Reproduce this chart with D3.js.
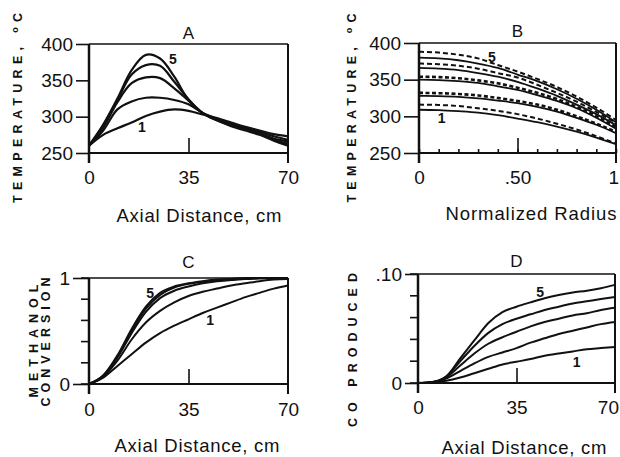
<!DOCTYPE html>
<html><head><meta charset="utf-8">
<script src="https://cdn.jsdelivr.net/npm/d3@7"></script>
<style>
html,body{margin:0;padding:0;background:#fff;}
svg{display:block;}
text{font-family:"Liberation Sans",Arial,Helvetica,sans-serif;fill:#111;}
</style></head><body>
<svg id="c" width="620" height="457"></svg>
<script>
// ---------- data ----------
const axialDistance = [0,5,10,15,20,25,30,35,40,45,50,55,60,65,70];
const normRadius = [0,0.1,0.2,0.3,0.4,0.5,0.6,0.7,0.8,0.9,1];
const curveLabels = ["1","5"];

// Panel A: temperature (°C) vs axial distance, cases 1..5
const tempA1 = [260,275,284,292,301,307,310,308,303,298,292,286,281,276,273];
const tempA2 = [260,281,310,321,326,326,323,317,305,297,290,284,279,273,268];
const tempA3 = [260,285,320,346,354,353,339,322,305,296,289,283,277,270,266];
const tempA4 = [260,288,323,358,371,370,348,324,305,295,288,282,276,268,263];
const tempA5 = [260,289,325,364,385,380,355,323,305,295,287,281,275,267,260];

// Panel B: radial temperature profiles, solid and dashed, cases 1..5
const tempB1 = [309,308.5,307,305,301.5,297,292,286,279,271,262];
const tempB1d = [316,315.5,314,311,307.5,303,297,290,282,273,263];
const tempB2 = [328,327.5,326.5,324.5,321.5,318,313,306.5,298,288.5,277];
const tempB2d = [332,331.5,330.5,328.5,325,321,316,309,300,290,279];
const tempB3 = [350,349.5,348,345.5,341,336,329,321,311,298,283];
const tempB3d = [354,353.5,352,349,345,339,332,323.5,313,300,285];
const tempB4 = [366,365,363,359,354,347,338,328,316,303,288];
const tempB4d = [372,371,369,365,359,353,343,332,320,306,291];
const tempB5 = [380,379,376.5,372,366,357,348,337,324,309,292];
const tempB5d = [388,387,384,379,370,361,351,340,327,312,295];

// Panel C: methanol conversion vs axial distance
const convC1 = [0,0.06,0.17,0.28,0.39,0.48,0.55,0.61,0.67,0.72,0.77,0.82,0.86,0.90,0.93];
const convC2 = [0,0.07,0.22,0.42,0.58,0.69,0.77,0.83,0.87,0.90,0.93,0.95,0.97,0.985,0.99];
const convC3 = [0,0.075,0.25,0.48,0.68,0.81,0.88,0.92,0.95,0.97,0.98,0.99,0.995,1.0,1.0];
const convC4 = [0,0.08,0.26,0.50,0.71,0.84,0.91,0.945,0.965,0.98,0.99,0.995,1.0,1.0,1.0];
const convC5 = [0,0.08,0.27,0.52,0.73,0.86,0.92,0.95,0.97,0.985,0.99,1.0,1.0,1.0,1.0];

// Panel D: CO produced vs axial distance
const coD1 = [0,0.0005,0.002,0.005,0.009,0.013,0.017,0.0195,0.022,0.025,0.027,0.029,0.031,0.032,0.033];
const coD2 = [0,0.0006,0.004,0.011,0.018,0.024,0.028,0.032,0.037,0.041,0.045,0.048,0.051,0.054,0.056];
const coD3 = [0,0.0007,0.005,0.016,0.027,0.036,0.042,0.047,0.052,0.056,0.059,0.062,0.064,0.067,0.069];
const coD4 = [0,0.0008,0.006,0.020,0.034,0.046,0.054,0.059,0.063,0.067,0.070,0.073,0.075,0.077,0.079];
const coD5 = [0,0.001,0.006,0.0226,0.039,0.055,0.065,0.070,0.074,0.0777,0.0807,0.083,0.0847,0.087,0.090];

const ticksTemp = [250,300,350,400];
const ticksAxial = [0,35,70];
const ticksRadius = [0,0.5,1];
const ticksConvMinor = [0,0.2,0.4,0.6,0.8,1];
const ticksConvMajor = [0,1];
const ticksCOMinor = [0,0.02,0.04,0.06,0.08,0.10];
const ticksCOMajor = [0,0.10];
const radiusMinor = [0,0.1,0.2,0.3,0.4,0.5,0.6,0.7,0.8,0.9,1];

// ---------- drawing ----------
const svg = d3.select("#c");
const INK = "#111";
const W = 620;

function zip(xs, ys){ return xs.map((v,i)=>[v, ys[i]]); }

function panel(o){
  const g = svg.append("g");
  const x = d3.scaleLinear().domain(o.xDomain).range([o.left, o.right]);
  const y = d3.scaleLinear().domain(o.yDomain).range([o.bottom, o.top]);
  const x0 = o.xDomain[0], x1 = o.xDomain[1], y0 = o.yDomain[0], y1 = o.yDomain[1];

  // curves
  const line = d3.line().x(d=>x(d[0])).y(d=>y(d[1])).curve(o.curve || d3.curveMonotoneX);
  o.series.forEach(s=>{
    g.append("path").attr("d", line(zip(s.xs, s.ys)))
      .attr("fill","none").attr("stroke",INK)
      .attr("stroke-width", s.w || 2)
      .attr("stroke-dasharray", s.dash || null)
      .attr("stroke-linejoin","round");
  });

  // frame
  const fr = g.append("g").attr("stroke",INK).attr("fill","none");
  fr.append("line").attr("x1",x(x0)).attr("x2",x(x0)).attr("y1",y(y1)).attr("y2",y(y0)+10).attr("stroke-width",2.5);
  fr.append("line").attr("x1",x(x1)).attr("x2",x(x1)).attr("y1",y(y1)).attr("y2",y(y0)+10).attr("stroke-width",2);
  fr.append("line").attr("x1",x(x0)).attr("x2",x(x1)).attr("y1",y(y1)).attr("y2",y(y1)).attr("stroke-width",1.6);
  fr.append("line").attr("x1",x(x0)).attr("x2",x(x1)).attr("y1",y(y0)).attr("y2",y(y0)).attr("stroke-width",2);

  // y minor ticks
  if (o.yMinor){
    g.append("g").selectAll("line").data(o.yMinor).join("line")
      .attr("x1",x(x0)-8).attr("x2",x(x0))
      .attr("y1",d=>y(d)).attr("y2",d=>y(d))
      .attr("stroke",INK).attr("stroke-width",1.6);
  }
  const ga = g.append("g").attr("transform",`translate(${x(x0)},0)`)
    .call(d3.axisLeft(y).tickValues(o.yTicks).tickSize(o.yTickSize).tickPadding(3).tickFormat(o.yFormat));
  ga.select(".domain").remove();
  ga.selectAll("line").attr("stroke",INK).attr("stroke-width",1.6);
  ga.selectAll("text").attr("font-size",19).attr("fill",INK)
    .style("font-family",'"Liberation Sans",Arial,sans-serif');

  // x axis labels
  const gx = g.append("g").attr("transform",`translate(0,${y(y0)})`)
    .call(d3.axisBottom(x).tickValues(o.xTicks).tickSize(0).tickPadding(o.xPad).tickFormat(o.xFormat));
  gx.select(".domain").remove();
  gx.selectAll("text").attr("font-size",19).attr("fill",INK)
    .style("font-family",'"Liberation Sans",Arial,sans-serif');
  // keep edge labels inside the canvas
  gx.selectAll("text").each(function(){
    const r = this.getBoundingClientRect();
    if (r.right > W - 1) d3.select(this).attr("x", -(r.right - (W - 1)));
  });

  // inner x ticks
  if (o.xMinor){
    const gi = g.append("g").attr("transform",`translate(0,${y(y0)})`)
      .call(d3.axisTop(x).tickValues(o.xMinor).tickSize(4).tickFormat(""));
    gi.select(".domain").remove();
    gi.selectAll("line").attr("stroke",INK).attr("stroke-width",1.6);
  }
  const gmid = g.append("g").attr("transform",`translate(0,${y(y0)})`)
    .call(d3.axisTop(x).tickValues([o.xMid]).tickSize(15).tickFormat(""));
  gmid.select(".domain").remove();
  gmid.selectAll("line").attr("stroke",INK).attr("stroke-width",1.6);

  // panel title
  g.append("text").attr("x",(o.left+o.right)/2).attr("y",o.titleY)
    .attr("text-anchor","middle").attr("font-size",17).text(o.title);

  // curve labels
  o.labels.forEach(l=>{
    g.append("text").attr("x",x(l.x)).attr("y",y(l.y)).attr("dy","0.35em")
      .attr("text-anchor","middle").attr("font-size",14).attr("font-weight","bold").text(l.t);
  });

  // x title
  g.append("text").attr("x",o.xTitleX).attr("y",o.xTitleY).attr("text-anchor","middle")
    .attr("font-size",18.5).attr("textLength",o.xTitleLen).attr("lengthAdjust","spacing")
    .text(o.xTitle);

  // y title(s)
  o.yTitles.forEach(t=>{
    const tx = g.append("text").attr("transform",`translate(${t.x},${t.cy}) rotate(-90)`)
      .attr("text-anchor","middle").attr("font-size",12.5).attr("font-weight","bold")
      .attr("textLength",t.len).attr("lengthAdjust","spacing");
    if (t.deg){
      tx.append("tspan").text(t.text);
      tx.append("tspan").attr("font-size",9).attr("dy",-4).text("o");
      tx.append("tspan").attr("dy",4).text("C");
    } else tx.text(t.text);
  });
  return {x,y};
}

const tempFmt = d3.format("d");

// Panel A
panel({
  xDomain:[0,70], yDomain:[250,400], left:89, right:288, top:44, bottom:153,
  curve: d3.curveCatmullRom.alpha(0.5),
  series:[tempA1,tempA2,tempA3,tempA4,tempA5].map(ys=>({xs:axialDistance, ys, w:2.2})),
  yTicks:ticksTemp, yTickSize:13, yFormat:tempFmt,
  xTicks:ticksAxial, xFormat:d3.format("d"), xPad:18, xMid:35,
  title:"A", titleY:39,
  labels:[{x:29.5,y:379,t:curveLabels[1]},{x:18.6,y:285,t:curveLabels[0]}],
  xTitle:"Axial  Distance, cm", xTitleX:199, xTitleY:222, xTitleLen:165,
  yTitles:[{x:21.5, cy:108, len:190, text:"TEMPERATURE, ", deg:true}]
});

// Panel B
panel({
  xDomain:[0,1], yDomain:[250,400], left:419, right:616, top:43, bottom:153,
  series:[
    {ys:tempB1},{ys:tempB1d,dash:"5,3",w:2},
    {ys:tempB2},{ys:tempB2d,dash:"4,2.5",w:2.6},
    {ys:tempB3},{ys:tempB3d,dash:"4,2.5",w:2.6},
    {ys:tempB4},{ys:tempB4d,dash:"5,3",w:2},
    {ys:tempB5},{ys:tempB5d,dash:"5,3",w:2}
  ].map(s=>Object.assign({xs:normRadius, w:1.8}, s)),
  yTicks:ticksTemp, yTickSize:15, yFormat:tempFmt,
  xTicks:ticksRadius, xFormat:d=>d===0?"0":(d===1?"1":".50"), xPad:18, xMid:0.5,
  xMinor:radiusMinor,
  title:"B", titleY:37,
  labels:[{x:0.37,y:381,t:curveLabels[1]},{x:0.115,y:297,t:curveLabels[0]}],
  xTitle:"Normalized  Radius", xTitleX:531, xTitleY:220, xTitleLen:171,
  yTitles:[{x:356, cy:108, len:189, text:"TEMPERATURE, ", deg:true}]
});

// Panel C
panel({
  xDomain:[0,70], yDomain:[0,1], left:89, right:288, top:278, bottom:384,
  series:[convC1,convC2,convC3,convC4,convC5].map(ys=>({xs:axialDistance, ys, w:2})),
  yTicks:ticksConvMajor, yTickSize:16, yFormat:d=>d===0?"0":"1",
  yMinor:ticksConvMinor,
  xTicks:ticksAxial, xFormat:d3.format("d"), xPad:19, xMid:35,
  title:"C", titleY:268,
  labels:[{x:21.5,y:0.86,t:curveLabels[1]},{x:42.6,y:0.60,t:curveLabels[0]}],
  xTitle:"Axial  Distance, cm", xTitleX:197, xTitleY:452, xTitleLen:165,
  yTitles:[{x:37.5, cy:341, len:113, text:"METHANOL"},{x:50, cy:342, len:129, text:"CONVERSION"}]
});

// Panel D
panel({
  xDomain:[0,70], yDomain:[0,0.10], left:418, right:615, top:274, bottom:383,
  series:[coD1,coD2,coD3,coD4,coD5].map(ys=>({xs:axialDistance, ys, w:2})),
  yTicks:ticksCOMajor, yTickSize:13, yFormat:d=>d===0?"0":".10",
  yMinor:ticksCOMinor,
  xTicks:ticksAxial, xFormat:d3.format("d"), xPad:18, xMid:35,
  title:"D", titleY:267,
  labels:[{x:43.4,y:0.0838,t:curveLabels[1]},{x:56.4,y:0.0195,t:curveLabels[0]}],
  xTitle:"Axial  Distance, cm", xTitleX:524, xTitleY:454, xTitleLen:165,
  yTitles:[{x:357, cy:350, len:154, text:"CO  PRODUCED"}]
});
</script>
</body></html>
